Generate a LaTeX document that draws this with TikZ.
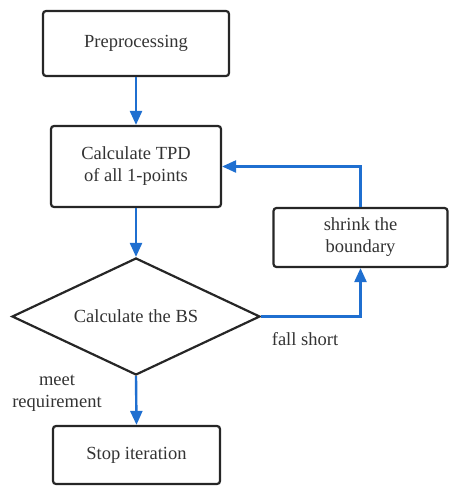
\documentclass[tikz,border=0pt]{standalone}
\usepackage{fontspec}
\setmainfont{Liberation Serif}
\newfontfamily\tnr{Liberation Serif}
\usetikzlibrary{arrows.meta,shapes.geometric}
\definecolor{arrblue}{HTML}{1F6FD0}
\definecolor{txtgray}{HTML}{333333}
\tikzset{
  box/.style={draw=black!85, line width=2.2pt, rounded corners=3pt, inner sep=0pt, align=center, text=txtgray, font=\tnr\fontsize{18.5}{22}\selectfont},
  dia/.style={draw=black!85, line width=2.2pt, diamond, inner sep=0pt, text=txtgray, font=\tnr\fontsize{18.5}{22}\selectfont},
  flow/.style={draw=arrblue, line width=2.4pt, -{Triangle[length=14pt,width=12pt]}},
  lbl/.style={text=txtgray, font=\tnr\fontsize{18.5}{22}\selectfont, align=center, inner sep=0pt}
}
\begin{document}
\begin{tikzpicture}[x=1pt,y=-1pt]
\useasboundingbox (0,0) rectangle (449,487);
\node[box, minimum width=186pt, minimum height=65pt] (pre) at (136,43.5) {Preprocessing};
\node[box, minimum width=170pt, minimum height=81pt] (tpd) at (136,166.5) {Calculate TPD\\of all 1-points};
\node[box, minimum width=174pt, minimum height=59pt] (shr) at (360.5,237.5) {shrink the\\boundary};
\node[dia, minimum width=248pt, minimum height=117pt, aspect=2.12] (bs) at (136,316.5) {Calculate the BS};
\node[box, minimum width=167pt, minimum height=58pt] (stop) at (136.5,455) {Stop iteration};
\draw[flow] (pre.south) -- (tpd.north);
\draw[flow] (tpd.south) -- (bs.north);
\draw[flow] (bs.east) -| (shr.south);
\draw[flow] (shr.north) |- (tpd.east);
\draw[flow] (bs.south) -- (stop.north);
\node[lbl] (fs) at (305,339) {fall short};
\node[lbl] (mr) at (57,393) {meet\\requirement};
\end{tikzpicture}
\end{document}
